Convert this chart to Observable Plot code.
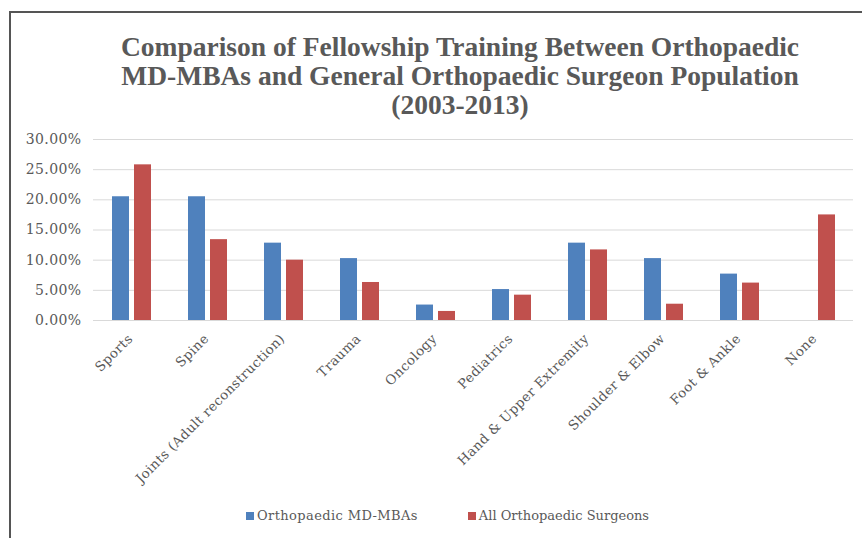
<!DOCTYPE html>
<html>
<head>
<meta charset="utf-8">
<script src="https://cdn.jsdelivr.net/npm/d3@7"></script>
<script src="https://cdn.jsdelivr.net/npm/@observablehq/plot@0.6"></script>
<style>
  html, body { margin: 0; padding: 0; background: #fff; }
  #wrap { position: relative; width: 862px; height: 538px; overflow: hidden; background: #fff; }
  #frame { position: absolute; left: 9px; top: 11px; width: 860px; height: 540px;
           border-left: 2px solid #555; border-top: 2px solid #555; }
  #title { position: absolute; left: 60px; width: 800px; top: 32px; text-align: center;
           font-family: "Liberation Serif", serif; font-weight: bold; font-size: 27.5px;
           line-height: 29px; color: #595959; }
  #chart { position: absolute; left: 0; top: 125px; }
  #legend { position: absolute; top: 508px; left: 246px; display: flex;
            font-family: "DejaVu Serif", serif; font-size: 13px; color: #595959; letter-spacing: 0.4px; }
  .item { display: flex; align-items: center; }
  .item + .item { margin-left: 50px; letter-spacing: 0px; }
  .sw { width: 8px; height: 8px; margin-right: 3px; }
</style>
</head>
<body>
<div id="wrap">
  <div id="frame"></div>
  <div id="title">Comparison of Fellowship Training Between Orthopaedic<br>MD-MBAs and General Orthopaedic Surgeon Population<br>(2003-2013)</div>
  <div id="chart"></div>
  <div id="legend"></div>
</div>
<script>
const categories = ["Sports", "Spine", "Joints (Adult reconstruction)", "Trauma", "Oncology",
  "Pediatrics", "Hand & Upper Extremity", "Shoulder & Elbow", "Foot & Ankle", "None"];
const seriesNames = ["Orthopaedic MD-MBAs", "All Orthopaedic Surgeons"];
const mdMba = [20.51, 20.51, 12.82, 10.26, 2.56, 5.13, 12.82, 10.26, 7.69, 0];
const allSurgeons = [25.8, 13.4, 10.0, 6.3, 1.5, 4.2, 11.7, 2.7, 6.2, 17.5];
const yTicks = [0, 5, 10, 15, 20, 25, 30];
const colors = ["#4F81BD", "#C0504D"];

const data = categories.flatMap((c, i) => [
  {category: c, series: seriesNames[0], value: mdMba[i]},
  {category: c, series: seriesNames[1], value: allSurgeons[i]}
]);

const chart = Plot.plot({
  width: 862,
  height: 370,
  marginTop: 14,
  marginLeft: 92,
  marginRight: 9,
  marginBottom: 175,
  style: {fontFamily: "DejaVu Serif, serif", fontSize: "13px", color: "#595959", background: "transparent", letterSpacing: "0.4px"},
  fx: {domain: categories, paddingInner: 0, paddingOuter: 0, label: null},
  x: {domain: seriesNames, paddingInner: 0.23, paddingOuter: 0.84, axis: null},
  y: {domain: [0, 30], label: null},
  color: {domain: seriesNames, range: colors},
  marks: [
    Plot.ruleY(yTicks, {stroke: "#d9d9d9", strokeWidth: 1}),
    Plot.barY(data, {fx: "category", x: "series", y: "value", fill: "series"}),
    Plot.axisY(yTicks, {tickSize: 0, tickPadding: 12, tickFormat: d => d.toFixed(2) + "%", label: null, fill: "#595959", fontSize: 14}),
    Plot.axisFx({anchor: "bottom", tickSize: 0, tickRotate: -45, tickPadding: 16, dx: -1, label: null, fill: "#595959", fontSize: 13.3})
  ]
});
document.getElementById("chart").appendChild(chart);

const legend = document.getElementById("legend");
seriesNames.forEach((s, i) => {
  const it = document.createElement("div");
  it.className = "item";
  const sw = document.createElement("span");
  sw.className = "sw";
  sw.style.background = colors[i];
  const t = document.createElement("span");
  t.textContent = s;
  it.appendChild(sw); it.appendChild(t);
  legend.appendChild(it);
});
</script>
</body>
</html>
